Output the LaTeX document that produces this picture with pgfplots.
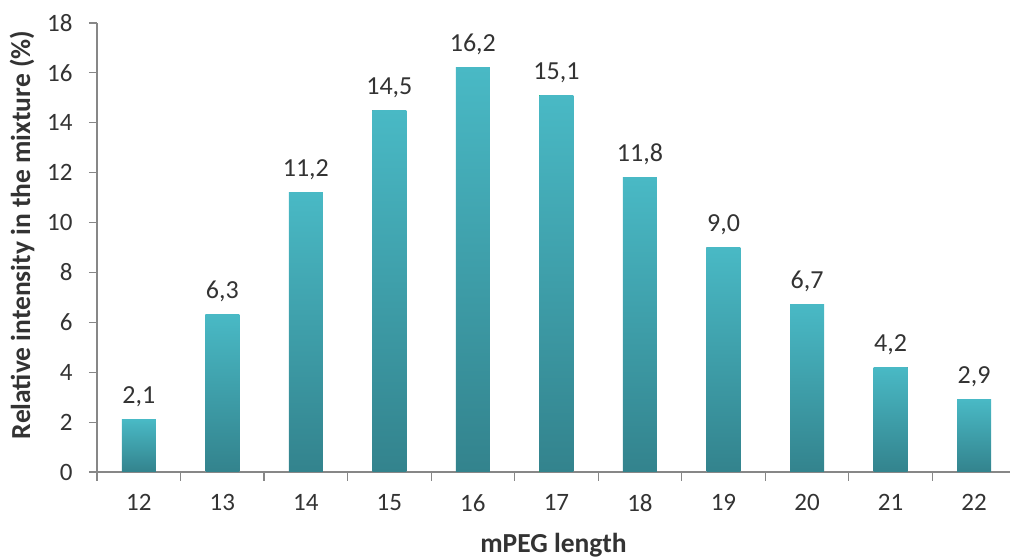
\documentclass[border=0pt]{standalone}
\usepackage{pgfplots}
\pgfplotsset{compat=1.18}
\usepackage{fontspec}
\setmainfont{Carlito}
\definecolor{barTop}{HTML}{49B9C5}
\definecolor{barBot}{HTML}{33838D}
\definecolor{axgray}{HTML}{878787}
\definecolor{txt}{HTML}{333333}
\begin{document}
\begin{tikzpicture}
\begin{axis}[
  at={(97pt,87pt)}, anchor=south west,
  scale only axis,
  width=913pt, height=449pt,
  xmin=11.5, xmax=22.43,
  ymin=0, ymax=18,
  ybar, bar width=34pt, bar shift=0pt,
  axis x line*=bottom, axis y line*=left,
  axis line style={axgray, line width=1.2pt},
  x axis line style={-}, y axis line style={-},
  xtick={12,...,22},
  minor xtick={11.5,12.5,...,21.5},
  ytick={0,2,...,18},
  major tick length=8pt, minor tick length=9pt,
  tick align=outside,
  xtick style={draw=none},
  minor x tick style={draw=axgray, line width=1.2pt},
  ytick style={draw=axgray, line width=1.2pt},
  ticklabel style={font=\fontsize{25}{29}\selectfont, text=txt},
  /pgf/number format/assume math mode=true,
  xticklabel style={yshift=-11pt},
  yticklabel style={xshift=-13pt},
  xlabel={\textbf{mPEG length}},
  ylabel={\textbf{Relative intensity in the mixture (\%)}},
  label style={font=\fontsize{27.5}{32}\selectfont, text=txt},
  xlabel style={at={(axis description cs:0.5,-0.162)}, anchor=center},
  ylabel style={at={(axis description cs:-0.0821,0.528)}, anchor=center},
  nodes near coords={\pgfmathprintnumber[fixed,fixed zerofill,precision=1,use comma]{\pgfplotspointmeta}},
  every node near coord/.style={font=\fontsize{26}{30}\selectfont, text=txt, anchor=base, yshift=16pt},
  enlarge x limits=false,
  every axis plot/.append style={draw=none, top color=barTop, bottom color=barBot},
]
\addplot coordinates {(12,2.1)};
\addplot coordinates {(13,6.3)};
\addplot coordinates {(14,11.2)};
\addplot coordinates {(15,14.5)};
\addplot coordinates {(16,16.2)};
\addplot coordinates {(17,15.1)};
\addplot coordinates {(18,11.8)};
\addplot coordinates {(19,9.0)};
\addplot coordinates {(20,6.7)};
\addplot coordinates {(21,4.2)};
\addplot coordinates {(22,2.9)};
\end{axis}
\pgfresetboundingbox
\path[use as bounding box] (0,0) rectangle (1010pt,559pt);
\end{tikzpicture}
\end{document}
